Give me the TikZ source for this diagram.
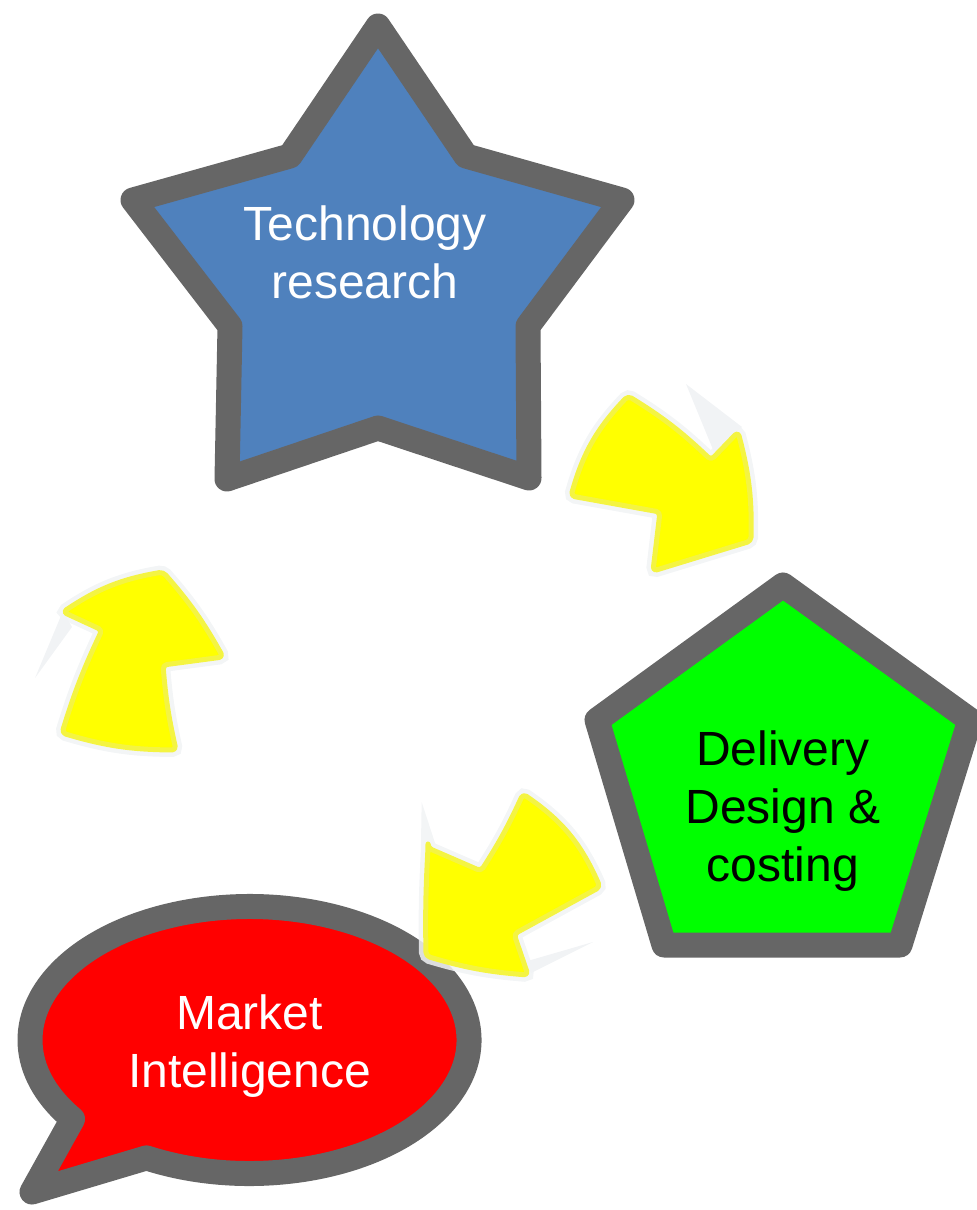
\documentclass[tikz,border=0pt]{standalone}
\usepackage{fontspec}
\setmainfont{Liberation Sans}
\usetikzlibrary{calc}
\usetikzlibrary{positioning}

\definecolor{edgegray}{HTML}{666666}
\definecolor{techblue}{HTML}{4F81BD}
\definecolor{deliverygreen}{HTML}{00FF00}
\definecolor{marketred}{HTML}{FF0000}
\definecolor{arrowyellow}{HTML}{FFFF00}
\definecolor{arrowrim}{HTML}{F4F442}
\definecolor{glowgray}{HTML}{F1F3F5}

\begin{document}
\begin{tikzpicture}[x=0.5pt, y=-0.5pt,
    shapeline/.style={draw=edgegray, line width=12.5pt, line join=round},
    yarrow/.style={fill=arrowyellow, draw=arrowrim, line width=2.5pt, line join=round, rounded corners=2pt,
        preaction={draw=glowgray, draw opacity=0.85, line width=7pt}},
    labeltext/.style={font=\fontsize{24}{29}\selectfont, align=center}]
    \useasboundingbox (0,0) rectangle (976,1210);

    %Shapes
    \coordinate (starC) at (365,252);
    \coordinate (pentC) at (783,811);
    \coordinate (bubbleC) at (249.5,1040);

    \draw[shapeline, fill=techblue] (378,26) -- (466,156) -- (622,200) -- (528,326) -- (529,478)
        -- (378,428) -- (227,479) -- (230,326) -- (133,200) -- (290,156) -- cycle;
    \draw[shapeline, fill=deliverygreen] (783,585) -- (970,720) -- (900,945) -- (664,945) -- (597,720) -- cycle;
    \draw[shapeline, fill=marketred] (32,1192) -- ($(bubbleC)+(118:219.5 and 133.5)$)
        arc[start angle=118, end angle=-216.3, x radius=219.5, y radius=133.5] -- cycle;

    %Labels
    \node[labeltext, text=white] (techText) at (starC) {Technology\\research};
    \node[labeltext] (deliveryText) at (pentC) {Delivery\\Design \&\\costing};
    \node[labeltext, text=white] (marketText) at ([yshift=-3pt]bubbleC) {Market\\Intelligence};

    %Arrows
    \fill[glowgray] (686,384) -- (742,427) -- (714,452) -- cycle;
    \fill[glowgray] (63,611) -- (72,627) -- (35,678) -- cycle;
    \fill[glowgray] (524,962) -- (593,942) -- (531,973) -- cycle;

    \path[yarrow] (571,496) to[bend left=14] (628,396) to[bend left=6] (711,460) -- (738,432)
        to[bend left=8] (751,541) -- (653,571) -- (660,512) -- cycle;
    \path[yarrow] (63,612) to[bend left=12] (163,572) to[bend left=6] (223,657) -- (163,665)
        to[bend right=4] (176,750) to[bend left=8] (62,733) to[bend left=4] (102,630) -- cycle;
    \path[yarrow] (428,848) -- (481,871) to[bend right=4] (523,794) to[bend left=16] (600,887)
        -- (514,934) -- (528,975) to[bend left=6] (426,956) to[bend left=2] cycle;
\end{tikzpicture}
\end{document}
